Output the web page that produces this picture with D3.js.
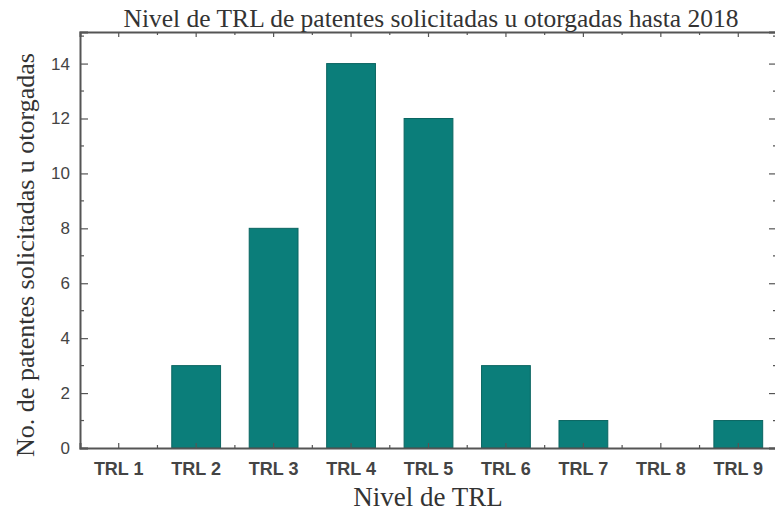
<!DOCTYPE html>
<meta charset="utf-8">
<style>
body { margin: 0; background: #fff; }
.tick text { font-family: Arial, "Liberation Sans", sans-serif; font-weight: bold; fill: #444; }
.serif { font-family: "Liberation Serif", "Times New Roman", serif; fill: #333; }
</style>
<body>
<div id="chart"></div>
<script src="https://d3js.org/d3.v7.min.js"></script>
<script>

var categories = ["TRL 1", "TRL 2", "TRL 3", "TRL 4", "TRL 5", "TRL 6", "TRL 7", "TRL 8", "TRL 9"];
var patentes = [0, 3, 8, 14, 12, 3, 1, 0, 1];
var yTicks = [0, 2, 4, 6, 8, 10, 12, 14];
var yMinor = [1, 3, 5, 7, 9, 11, 13, 15];

var width = 775, height = 520;
var plotLeft = 80, plotRight = 777, plotTop = 32, plotBottom = 448;

var svg = d3.select("#chart").append("svg")
    .attr("width", width)
    .attr("height", height);

var x = d3.scaleBand()
    .domain(categories)
    .range([plotLeft, plotRight])
    .paddingInner(0.37)
    .paddingOuter(0.185);

var y = d3.scaleLinear()
    .domain([0, 15.15])
    .range([plotBottom, plotTop]);

// bars
svg.selectAll("rect.bar")
    .data(patentes)
    .enter().append("rect")
    .attr("class", "bar")
    .attr("x", function(d, i) { return x(categories[i]); })
    .attr("width", x.bandwidth())
    .attr("y", function(d) { return y(d); })
    .attr("height", function(d) { return plotBottom - y(d); })
    .attr("fill", "#0b7e7a")
    .attr("stroke", "#0a6561")
    .attr("stroke-width", 1);

var step = x.step();
var boundaries = d3.range(1, categories.length).map(function(i) { return plotLeft + i * step; });

// bottom axis
var xAxis = svg.append("g")
    .attr("transform", "translate(0," + plotBottom + ")")
    .call(d3.axisBottom(x).tickSize(-5).tickPadding(12));
xAxis.selectAll(".tick text").style("font-size", "18px").attr("dy", "0.85em");

// top axis
svg.append("g")
    .attr("transform", "translate(0," + plotTop + ")")
    .call(d3.axisTop(x).tickSize(-5).tickFormat(""));

// left axis
var yAxis = svg.append("g")
    .attr("transform", "translate(" + plotLeft + ",0)")
    .call(d3.axisLeft(y).tickValues(yTicks).tickSize(-8).tickPadding(10));
yAxis.selectAll(".tick text").style("font-size", "17px").style("font-weight", "normal");

// right axis
svg.append("g")
    .attr("transform", "translate(" + plotRight + ",0)")
    .call(d3.axisRight(y).tickValues(yTicks).tickSize(-8).tickFormat(""));

// minor ticks
var minor = svg.append("g").attr("stroke", "#555").attr("stroke-width", 1.2);
yMinor.forEach(function(v) {
    minor.append("line").attr("x1", plotLeft).attr("x2", plotLeft + 4).attr("y1", y(v)).attr("y2", y(v));
    minor.append("line").attr("x1", plotRight).attr("x2", plotRight - 4).attr("y1", y(v)).attr("y2", y(v));
});
boundaries.forEach(function(b) {
    minor.append("line").attr("x1", b).attr("x2", b).attr("y1", plotBottom).attr("y2", plotBottom - 3);
    minor.append("line").attr("x1", b).attr("x2", b).attr("y1", plotTop).attr("y2", plotTop + 3);
});

svg.selectAll(".domain").attr("stroke", "#555").attr("stroke-width", 2);
svg.selectAll(".tick line").attr("stroke", "#555").attr("stroke-width", 1.2);

// titles
svg.append("text")
    .attr("class", "serif")
    .attr("x", 431)
    .attr("y", 27)
    .attr("text-anchor", "middle")
    .style("font-size", "25.5px")
    .text("Nivel de TRL de patentes solicitadas u otorgadas hasta 2018");

svg.append("text")
    .attr("class", "serif")
    .attr("x", 428)
    .attr("y", 506)
    .attr("text-anchor", "middle")
    .style("font-size", "27px")
    .text("Nivel de TRL");

svg.append("text")
    .attr("class", "serif")
    .attr("transform", "translate(34," + 255 + ") rotate(-90)")
    .attr("text-anchor", "middle")
    .style("font-size", "26px")
    .text("No. de patentes solicitadas u otorgadas");

</script>
</body>
